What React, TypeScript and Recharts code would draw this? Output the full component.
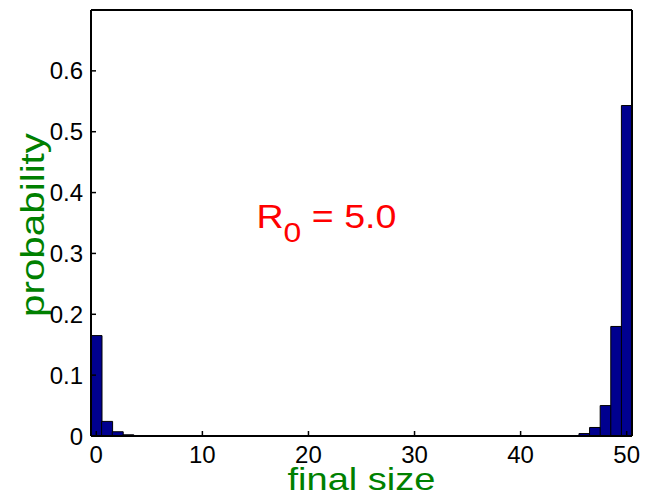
import { BarChart, Bar, XAxis, YAxis, Label, ReferenceDot } from "recharts";

// final size categories (0..50) and probability of each
const sizes = [
  0, 1, 2, 3, 4, 5, 6, 7, 8, 9, 10, 11, 12, 13, 14, 15, 16, 17, 18, 19, 20,
  21, 22, 23, 24, 25, 26, 27, 28, 29, 30, 31, 32, 33, 34, 35, 36, 37, 38, 39,
  40, 41, 42, 43, 44, 45, 46, 47, 48, 49, 50,
];
const probability = [
  0.165, 0.024, 0.007, 0.002, 0.0005, 0, 0, 0, 0, 0, 0, 0, 0, 0, 0, 0, 0, 0, 0,
  0, 0, 0, 0, 0, 0, 0, 0, 0, 0, 0, 0, 0, 0, 0, 0, 0, 0, 0, 0, 0, 0, 0, 0, 0, 0,
  0, 0.004, 0.014, 0.05, 0.18, 0.543,
];
const yTicks = [0, 0.1, 0.2, 0.3, 0.4, 0.5, 0.6];
const r0Label = "5.0";

const data = sizes.map((s, i) => ({ size: s, p: probability[i] }));

const FONT = "'Liberation Sans', Arial, Helvetica, sans-serif";
const GREEN = "#008000";

const fmt = (v: number) => (v === 0 ? "0" : v.toFixed(1));

export default function App() {
  return (
    <div style={{ position: "absolute", left: 0, top: 0 }}>
      <BarChart
        width={655}
        height={498}
        data={data}
        barCategoryGap={0}
        barGap={0}
        margin={{ top: 9, right: 22, bottom: 32, left: 31 }}
        style={{ fontFamily: FONT }}
      >
        <XAxis
          dataKey="size"
          interval={9}
          height={30}
          tickSize={-5}
          tickMargin={15}
          axisLine={{ stroke: "#000", strokeWidth: 2 }}
          tickLine={{ stroke: "#000", strokeWidth: 1.5 }}
          tick={{ fill: "#000", fontSize: 24, fontFamily: FONT }}
        >
          <Label
            content={(props: any) => {
              const vb = props.viewBox || {};
              return (
                <text
                  x={vb.x + vb.width / 2}
                  y={490}
                  textAnchor="middle"
                  fill={GREEN}
                  fontSize={32}
                  fontFamily={FONT}
                  textLength={148}
                  lengthAdjust="spacingAndGlyphs"
                >
                  final size
                </text>
              );
            }}
          />
        </XAxis>
        <XAxis
          xAxisId="top"
          dataKey="size"
          orientation="top"
          interval={9}
          height={1}
          tickSize={-5}
          tick={false}
          axisLine={{ stroke: "#000", strokeWidth: 2 }}
          tickLine={{ stroke: "#000", strokeWidth: 1.5 }}
        />
        <YAxis
          domain={[0, 0.7]}
          ticks={yTicks}
          width={60}
          tickSize={-5}
          tickMargin={13}
          tickFormatter={fmt}
          allowDataOverflow
          axisLine={{ stroke: "#000", strokeWidth: 2 }}
          tickLine={{ stroke: "#000", strokeWidth: 1.5 }}
          tick={{ fill: "#000", fontSize: 24, fontFamily: FONT }}
        >
          <Label
            content={() => (
              <text
                x={0}
                y={0}
                transform="translate(44,225) rotate(-90)"
                textAnchor="middle"
                fill={GREEN}
                fontSize={34}
                fontFamily={FONT}
                textLength={184}
                lengthAdjust="spacingAndGlyphs"
              >
                probability
              </text>
            )}
          />
        </YAxis>
        <YAxis
          yAxisId="right"
          orientation="right"
          domain={[0, 0.7]}
          ticks={yTicks}
          width={1}
          tickSize={-5}
          tick={false}
          allowDataOverflow
          axisLine={{ stroke: "#000", strokeWidth: 2 }}
          tickLine={{ stroke: "#000", strokeWidth: 1.5 }}
        />
        <Bar
          dataKey="p"
          fill="#00008F"
          stroke="#000"
          strokeWidth={1}
          isAnimationActive={false}
        />
        <ReferenceDot
          x={15}
          y={0.342}
          r={0}
          fill="none"
          stroke="none"
          ifOverflow="visible"
          label={{
            content: (props: any) => {
              const vb = props.viewBox || {};
              return (
                <text
                  x={vb.x + 1}
                  y={vb.y}
                  fill="#FF0000"
                  fontSize={33}
                  fontFamily={FONT}
                  textLength={140}
                  lengthAdjust="spacingAndGlyphs"
                >
                  R
                  <tspan fontSize={28} dy={14}>
                    0
                  </tspan>
                  <tspan dy={-14}>{" = " + r0Label}</tspan>
                </text>
              );
            },
          }}
        />
      </BarChart>
    </div>
  );
}
